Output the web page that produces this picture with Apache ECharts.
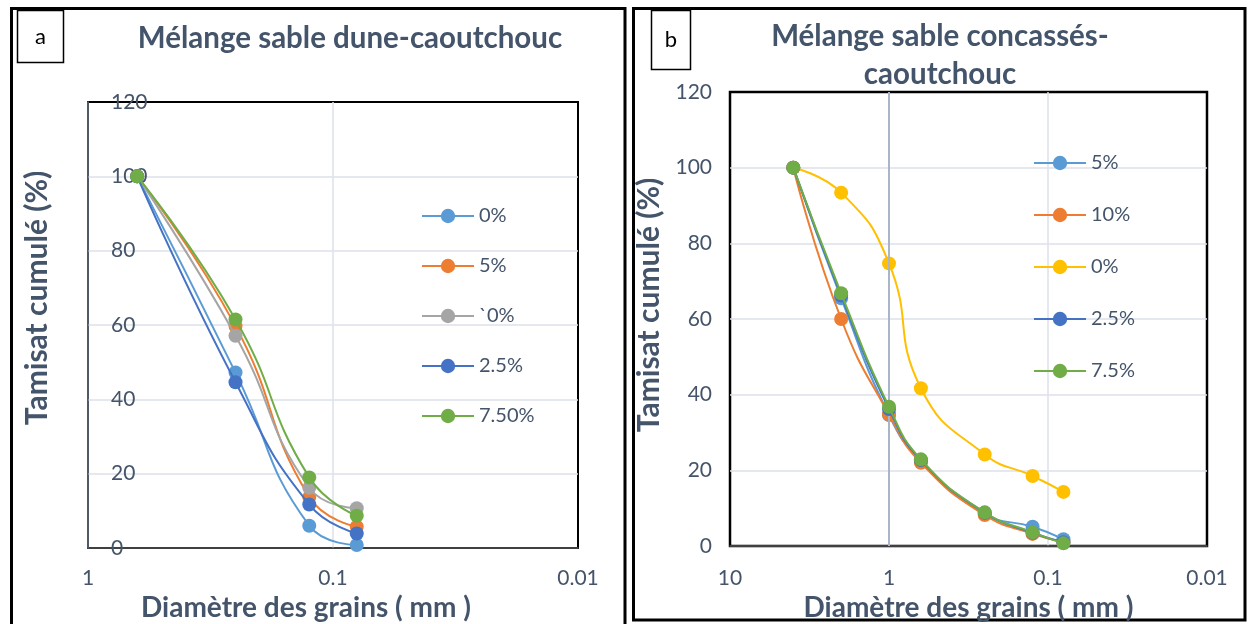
<!DOCTYPE html>
<html>
<head>
<meta charset="utf-8">
<script src="https://cdn.jsdelivr.net/npm/echarts@6/dist/echarts.min.js"></script>
<style>
html,body{margin:0;padding:0;background:#fff;width:1248px;height:624px;overflow:hidden;}
#a{position:absolute;left:0;top:0;width:629px;height:624px;}
#b{position:absolute;left:629px;top:0;width:619px;height:624px;}
</style>
</head>
<body>
<div id="a"></div>
<div id="b"></div>
<script>
// ---- Data: panel a (sable dune) ----
const xA = [0.63, 0.25, 0.125, 0.08];
const namesA = ['0%', '5%', '`0%', '2.5%', '7.50%'];
const a0 = [100, 47.2, 6.0, 0.8];
const a5 = [100, 59.7, 13.7, 5.7];
const aQ = [100, 57.1, 16.2, 10.7];
const a25 = [100, 44.6, 11.7, 3.9];
const a75 = [100, 61.5, 19.0, 8.7];
const xTicksA = ['1', '0.1', '0.01'];

// ---- Data: panel b (sable concassés) ----
const xB = [4, 2, 1, 0.63, 0.25, 0.125, 0.08];
const namesB = ['5%', '10%', '0%', '2.5%', '7.5%'];
const b5 = [100, 65.5, 34.6, 22.5, 8.5, 5.1, 1.8];
const b10 = [100, 60.0, 34.8, 22.0, 8.2, 3.2, 1.0];
const b0 = [100, 93.4, 74.7, 41.7, 24.2, 18.5, 14.3];
const b25 = [100, 66.2, 36.2, 22.7, 8.8, 3.5, 1.0];
const b75 = [100, 66.8, 36.8, 22.9, 8.9, 3.6, 0.7];
const xTicksB = ['10', '1', '0.1', '0.01'];

const yTicks = [0, 20, 40, 60, 80, 100, 120];

const colorsA = ['#5B9BD5', '#ED7D31', '#A5A5A5', '#4472C4', '#70AD47'];
const colorsB = ['#5B9BD5', '#ED7D31', '#FFC000', '#4472C4', '#70AD47'];
const TXT = '#44546a';
const FONT = 'Lato';
const GRIDC = '#dde2ea';

function tickFmt(list) {
  return function (v) {
    for (const s of list) { if (Math.abs(Math.log10(Number(s)) - Math.log10(v)) < 1e-6) return s; }
    return '';
  };
}
function mkSeries(names, xs, ys, colors) {
  return names.map((n, i) => ({
    name: n, type: 'line', smooth: 0.5,
    data: xs.map((x, j) => [x, ys[i][j]]),
    symbol: 'circle', symbolSize: 14,
    lineStyle: { width: 2, color: colors[i] },
    itemStyle: { color: colors[i] },
    z: 2 + i
  }));
}
const splitX = { show: true, showMinLine: false, showMaxLine: false, lineStyle: { color: GRIDC, width: 1.5 } };
const splitY = { show: true, showMinLine: false, showMaxLine: false, lineStyle: { color: GRIDC, width: 1.5 } };

// ---------- Panel a ----------
const chartA = echarts.init(document.getElementById('a'), null, { renderer: 'canvas' });
chartA.setOption({
  animation: false,
  textStyle: { fontFamily: FONT },
  title: {
    text: 'Mélange sable dune-caoutchouc', left: 345, top: 18, textAlign: 'center',
    textStyle: { fontFamily: FONT, fontSize: 29.5, fontWeight: 'bold', color: TXT }
  },
  graphic: [
    { type: 'rect', shape: { x: 11.5, y: 8.5, width: 613.5, height: 640 }, style: { fill: 'none', stroke: '#000', lineWidth: 3 }, silent: true },
    { type: 'rect', shape: { x: 17.5, y: 10.5, width: 46, height: 52 }, style: { fill: '#fff', stroke: '#000', lineWidth: 1.5 }, silent: true },
    { type: 'text', x: 40.5, y: 37, style: { text: 'a', fill: '#000', font: '22px ' + FONT, align: 'center', verticalAlign: 'middle' }, silent: true }
  ],
  legend: {
    orient: 'vertical', left: 416, top: 201, itemWidth: 52, itemHeight: 18, itemGap: 30,
    data: namesA,
    textStyle: { fontSize: 20, color: TXT, fontFamily: FONT, lineHeight: 20 }
  },
  grid: { left: 88, right: 51, top: 102, bottom: 76, outerBoundsMode: 'none', containLabel: false,
          show: true, borderColor: '#000', borderWidth: 2, backgroundColor: '#fff' },
  xAxis: {
    type: 'log', logBase: 10, min: 0.01, max: 1, inverse: true,
    name: 'Diamètre des grains ( mm )', nameLocation: 'middle', nameGap: 44,
    nameTextStyle: { fontSize: 28, fontWeight: 'bold', color: TXT, fontFamily: FONT, padding: [0, 54, 0, 0] },
    axisLine: { show: true, lineStyle: { color: '#555', width: 1.5 } },
    axisTick: { show: false },
    axisLabel: { formatter: tickFmt(xTicksA), fontSize: 21, color: TXT, margin: 20, fontFamily: FONT },
    splitLine: splitX
  },
  yAxis: {
    type: 'value', min: 0, max: 120, interval: 20,
    name: 'Tamisat cumulé (%)', nameLocation: 'middle', nameGap: 36,
    nameTextStyle: { fontSize: 30, fontWeight: 'bold', color: TXT, fontFamily: FONT, padding: [0, 0, 0, 54] },
    axisLine: { show: true, lineStyle: { color: '#6b7788', width: 1.5 } },
    axisTick: { show: false },
    axisLabel: { inside: true, margin: 23, fontSize: 21, color: TXT, fontFamily: FONT, formatter: v => yTicks.includes(v) ? String(v) : '' },
    splitLine: splitY
  },
  series: mkSeries(namesA, xA, [a0, a5, aQ, a25, a75], colorsA)
});

// ---------- Panel b ----------
const chartB = echarts.init(document.getElementById('b'), null, { renderer: 'canvas' });
const seriesB = mkSeries(namesB, xB, [b5, b10, b0, b25, b75], colorsB);
seriesB[0].markLine = {
  silent: true, symbol: 'none', label: { show: false },
  lineStyle: { color: '#a9b6c9', width: 2, type: 'solid' },
  data: [{ xAxis: 1 }]
};
chartB.setOption({
  animation: false,
  textStyle: { fontFamily: FONT },
  title: {
    text: 'Mélange sable concassés-\ncaoutchouc', left: 306, top: 12, textAlign: 'center',
    textStyle: { fontFamily: FONT, fontSize: 29.5, fontWeight: 'bold', color: TXT, lineHeight: 38 }
  },
  graphic: [
    { type: 'rect', shape: { x: 4.5, y: 8.5, width: 611.5, height: 611.5 }, style: { fill: 'none', stroke: '#000', lineWidth: 3 }, silent: true },
    { type: 'rect', shape: { x: 22.5, y: 10.5, width: 39, height: 59 }, style: { fill: '#fff', stroke: '#000', lineWidth: 1.5 }, silent: true },
    { type: 'text', x: 42, y: 40, style: { text: 'b', fill: '#000', font: '22px ' + FONT, align: 'center', verticalAlign: 'middle' }, silent: true }
  ],
  legend: {
    orient: 'vertical', left: 399, top: 148, itemWidth: 52, itemHeight: 18, itemGap: 32,
    data: namesB,
    textStyle: { fontSize: 20, color: TXT, fontFamily: FONT, lineHeight: 20 }
  },
  grid: { left: 101, right: 41, top: 92, bottom: 78, outerBoundsMode: 'none', containLabel: false,
          show: true, borderColor: '#000', borderWidth: 2.5, backgroundColor: '#fff' },
  xAxis: {
    type: 'log', logBase: 10, min: 0.01, max: 10, inverse: true,
    name: 'Diamètre des grains ( mm )', nameLocation: 'middle', nameGap: 44,
    nameTextStyle: { fontSize: 28, fontWeight: 'bold', color: TXT, fontFamily: FONT },
    axisLine: { show: true, lineStyle: { color: '#555', width: 1.5 } },
    axisTick: { show: false },
    axisLabel: { formatter: tickFmt(xTicksB), fontSize: 21, color: TXT, margin: 22, fontFamily: FONT },
    splitLine: splitX
  },
  yAxis: {
    type: 'value', min: 0, max: 120, interval: 20,
    name: 'Tamisat cumulé (%)', nameLocation: 'middle', nameGap: 57,
    nameTextStyle: { fontSize: 30, fontWeight: 'bold', color: TXT, fontFamily: FONT, padding: [0, 0, 0, 28] },
    axisLine: { show: false },
    axisTick: { show: false },
    axisLabel: { margin: 18, fontSize: 21, color: TXT, fontFamily: FONT, formatter: v => yTicks.includes(v) ? String(v) : '' },
    splitLine: splitY
  },
  series: seriesB
});
</script>
</body>
</html>
